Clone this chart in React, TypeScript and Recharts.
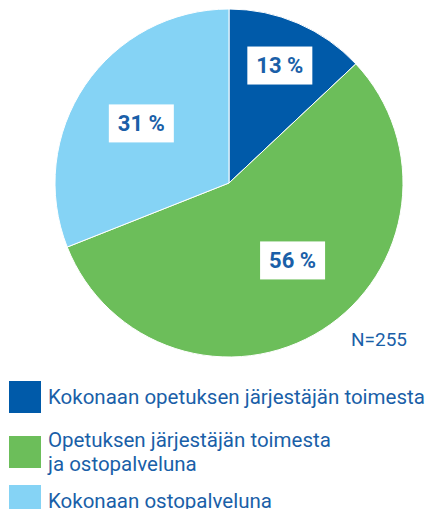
import { PieChart, Pie, Cell } from "recharts";

const categories = [
    "Kokonaan opetuksen järjestäjän toimesta",
    "Opetuksen järjestäjän toimesta\nja ostopalveluna",
    "Kokonaan ostopalveluna",
];
const shares = [13, 56, 31];
const sampleSize = 255;

const COLORS = ["#005aa9", "#6cbe5a", "#85d3f5"];
const TEXT = "#1a5fa8";
const FONT = "Roboto, sans-serif";
// distance of each value box from the centre, plus a small nudge
const LABEL_R = [128, 100, 106];
const LABEL_NUDGE = [[0, 0], [10, -7], [0, 0]];
// space above each legend row
const LEGEND_GAP = [0, 15, 9];

const data = categories.map((name, i) => ({ name, value: shares[i] }));

const RADIAN = Math.PI / 180;

function renderLabel(props: any) {
    const { cx, cy, midAngle, index, value } = props;
    const r = LABEL_R[index];
    const x = cx + r * Math.cos(-midAngle * RADIAN) + LABEL_NUDGE[index][0];
    const y = cy + r * Math.sin(-midAngle * RADIAN) + LABEL_NUDGE[index][1];
    return (
        <g>
            <rect x={x - 32.5} y={y - 19} width={65} height={38} fill="#ffffff" />
            <text
                x={x}
                y={y}
                textAnchor="middle"
                dominantBaseline="central"
                fill={TEXT}
                fontFamily={FONT}
                fontWeight={700}
                fontSize={22}
            >
                {`${value} %`}
            </text>
        </g>
    );
}

export default function App() {
    return (
        <div style={{ position: "absolute", left: 0, top: 0, width: 428, height: 509, overflow: "hidden", background: "#fff" }}>
            <PieChart width={428} height={370} margin={{ top: 0, right: 0, bottom: 0, left: 0 }}>
                <Pie
                    data={data}
                    dataKey="value"
                    nameKey="name"
                    cx={229}
                    cy={183}
                    outerRadius={174}
                    startAngle={90}
                    endAngle={-270}
                    stroke="#ffffff"
                    strokeWidth={1}
                    label={renderLabel}
                    labelLine={false}
                    isAnimationActive={false}
                >
                    {data.map((entry, index) => (
                        <Cell key={`cell-${index}`} fill={COLORS[index % COLORS.length]} />
                    ))}
                </Pie>
            </PieChart>
            <div
                style={{
                    position: "absolute",
                    left: 351,
                    top: 329,
                    color: TEXT,
                    fontFamily: FONT,
                    fontSize: 19,
                    lineHeight: "22px",
                }}
            >
                {`N=${sampleSize}`}
            </div>
            <div style={{ position: "absolute", left: 9, top: 381, width: 419 }}>
                {categories.map((name, i) => (
                    <div
                        key={`leg-${i}`}
                        style={{ display: "flex", alignItems: "center", minHeight: 32, marginTop: LEGEND_GAP[i] }}
                    >
                        <div style={{ width: 32, height: 32, background: COLORS[i], flexShrink: 0 }} />
                        <div
                            style={{
                                marginLeft: 7,
                                color: TEXT,
                                fontFamily: FONT,
                                fontSize: 20.5,
                                lineHeight: "24px",
                                whiteSpace: "pre-line",
                            }}
                        >
                            {name}
                        </div>
                    </div>
                ))}
            </div>
        </div>
    );
}
